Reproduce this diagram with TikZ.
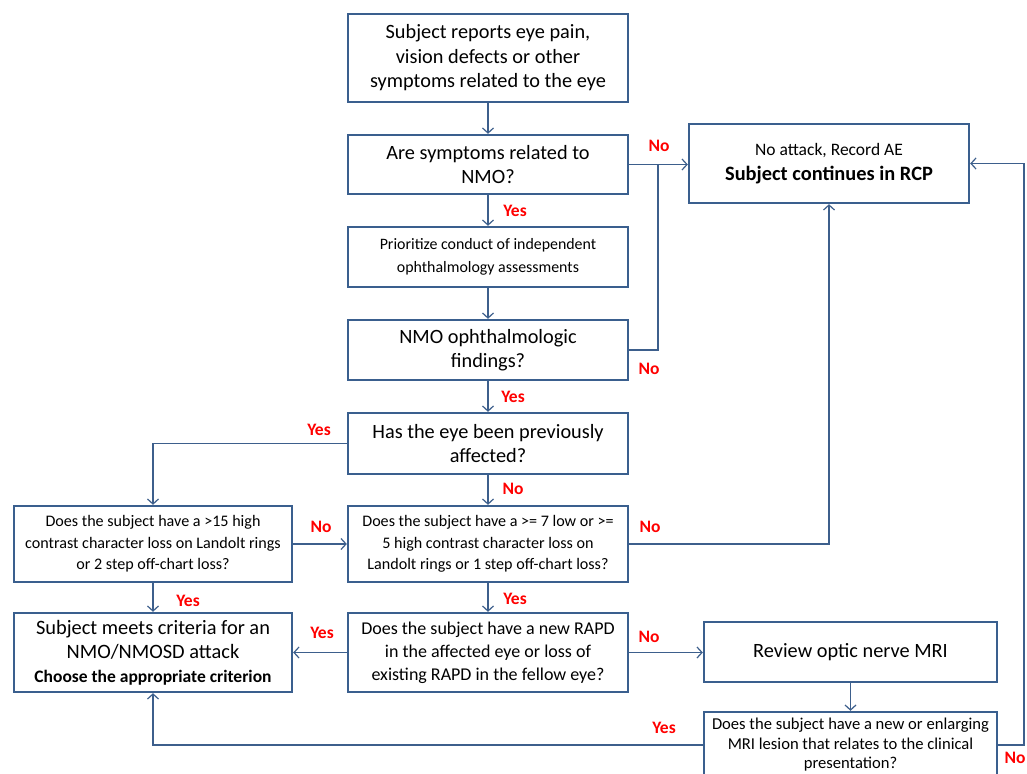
\documentclass[tikz,border=0pt]{standalone}
\usepackage{fontspec}
\setmainfont{Carlito}
\usetikzlibrary{arrows.meta}
\definecolor{boxblue}{HTML}{3A5F8E}
\definecolor{linkblue}{HTML}{3D5F8C}
\definecolor{lblred}{HTML}{FF0000}
\tikzset{
  box/.style={draw=boxblue, line width=2.4pt, fill=white, align=center, inner sep=2pt},
  big/.style={font=\fontsize{20.3}{24.5}\selectfont},
  mid/.style={font=\fontsize{18}{23}\selectfont},
  small/.style={font=\fontsize{16.1}{21.5}\selectfont},
  link/.style={draw=linkblue, line width=1.3pt, -{Straight Barb[length=5pt,width=11pt,line width=1.2pt]}},
  plain/.style={draw=linkblue, line width=1.3pt},
  lbl/.style={text=lblred, font=\fontsize{17.5}{19}\selectfont\bfseries, inner sep=0pt},
}
\begin{document}
\begin{tikzpicture}[x=1pt,y=-1pt]
\useasboundingbox (0,0) rectangle (1027,773);
\clip (0,0) rectangle (1027,773);
\fill[white] (0,0) rectangle (1027,773);

\node[box,big,minimum width=280pt,minimum height=88pt] (n1) at (488,58) {Subject reports eye pain,\\vision defects or other\\symptoms related to the eye};
\node[box,big,minimum width=280pt,minimum height=59pt] (n2) at (488,164.5) {Are symptoms related to\\NMO?};
\node[box,minimum width=280pt,minimum height=60pt,font=\fontsize{15.9}{23}\selectfont] (n3) at (488,257) {Prioritize conduct of independent\\ophthalmology assessments};
\node[box,big,minimum width=280pt,minimum height=60pt] (n4) at (488,350) {NMO ophthalmologic\\findings?};
\node[box,big,minimum width=280pt,minimum height=61pt] (n5) at (488,443.5) {Has the eye been previously\\affected?};
\node[box,small,minimum width=280pt,minimum height=76pt] (n6) at (488,544) {Does the subject have a >= 7 low or >=\\5 high contrast character loss on\\Landolt rings or 1 step off-chart loss?};
\node[box,small,minimum width=278pt,minimum height=76pt] (n7) at (153,544) {Does the subject have a >15 high\\contrast character loss on Landolt rings\\or 2 step off-chart loss?};
\node[box,minimum width=278pt,minimum height=79pt,font=\fontsize{20.4}{24}\selectfont] (n8) at (153,652.5) {Subject meets criteria for an\\NMO/NMOSD attack\\{\fontsize{17.5}{22}\selectfont\bfseries Choose the appropriate criterion}};
\node[box,mid,minimum width=280pt,minimum height=79pt] (n9) at (488,652.5) {Does the subject have a new RAPD\\in the affected eye or loss of\\existing RAPD in the fellow eye?};
\node[box,big,minimum width=293pt,minimum height=60pt] (n10) at (850.5,652) {Review optic nerve MRI};
\node[box,minimum width=293pt,minimum height=66pt,font=\fontsize{16.6}{19.5}\selectfont] (n11) at (850.5,745) {Does the subject have a new or enlarging\\MRI lesion that relates to the clinical\\presentation?};
\node[box,minimum width=280pt,minimum height=79pt,font=\fontsize{17.5}{24.5}\selectfont] (n12) at (829,163.5) {No attack, Record AE\\{\fontsize{20.4}{24.5}\selectfont\bfseries Subject continues in RCP}};

\coordinate (j1) at (658,164.5);
\coordinate (c1) at (1024,745);

% connectors
\draw[link] (n1.south) -- (n2.north);
\draw[link] (n2.south) -- (n3.north);
\draw[link] (n3.south) -- (n4.north);
\draw[link] (n4.south) -- (n5.north);
\draw[link] (n5.south) -- (n6.north);
\draw[link] (n2.east) -- (n2.east -| n12.west);
\draw[plain] (n4.east) -| (j1);
\draw[link] (n5.west) -| (n7.north);
\draw[link] (n7.east) -- (n6.west);
\draw[link] (n7.south) -- (n8.north);
\draw[link] (n6.south) -- (n9.north);
\draw[link] (n6.east) -| (n12.south);
\draw[link] (n9.west) -- (n8.east);
\draw[link] (n9.east) -- (n9.east -| n10.west);
\draw[link] (n10.south) -- (n11.north);
\draw[link] (n11.west) -| (n8.south);
\draw[link] (n11.east) -- (c1) |- (n12.east);

% labels
\node[lbl] (l1) at (659,146) {No};
\node[lbl] (l2) at (515,211) {Yes};
\node[lbl] (l3) at (649,369) {No};
\node[lbl] (l4) at (513,397) {Yes};
\node[lbl] (l5) at (319,430) {Yes};
\node[lbl] (l6) at (513,489) {No};
\node[lbl] (l7) at (321,527) {No};
\node[lbl] (l8) at (650,527) {No};
\node[lbl] (l9) at (188,601) {Yes};
\node[lbl] (l10) at (515,599) {Yes};
\node[lbl] (l11) at (322,633) {Yes};
\node[lbl] (l12) at (649,637) {No};
\node[lbl] (l13) at (664,728) {Yes};
\node[lbl] (l14) at (1015,758) {No};
\end{tikzpicture}
\end{document}
